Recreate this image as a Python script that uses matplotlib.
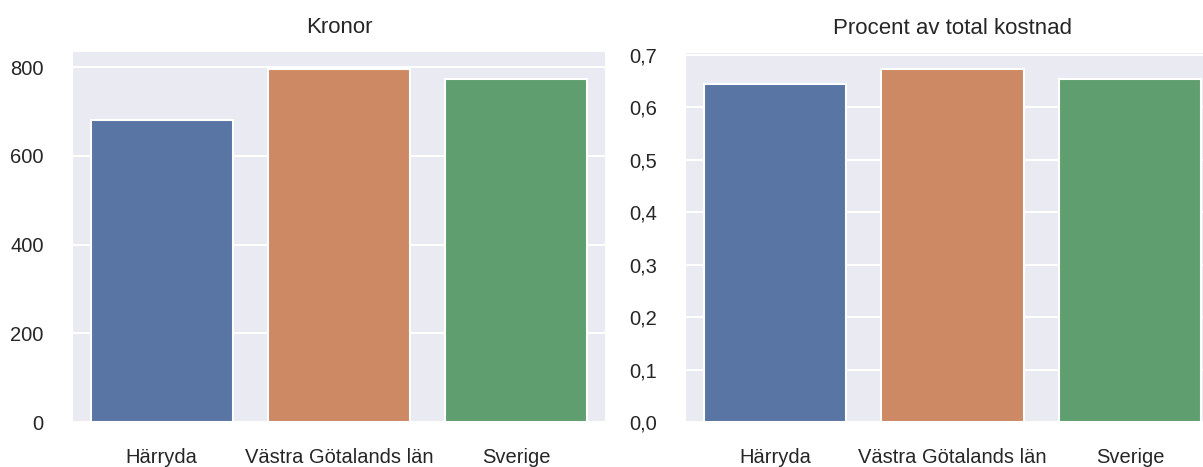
import matplotlib
matplotlib.use("Agg")
import matplotlib.pyplot as plt
from matplotlib.ticker import FuncFormatter

categories = ["Härryda", "Västra Götalands län", "Sverige"]
kronor = [680, 795, 774]
procent = [0.643, 0.673, 0.653]
colors = ["#5875a4", "#cc8963", "#5f9e6e"]
titles = ["Kronor", "Procent av total kostnad"]

plt.rcParams['font.family'] = ['Liberation Sans', 'DejaVu Sans']
fig = plt.figure(figsize=(12.03, 4.67), dpi=100)
W, H = 1203, 467
def px(l, t, r, b):
    return [l / W, 1 - b / H, (r - l) / W, (b - t) / H]

ax1 = fig.add_axes(px(73, 52, 605, 422))
ax2 = fig.add_axes(px(686, 53, 1219, 422))

for ax, vals, title, ytop in [(ax1, kronor, titles[0], 834), (ax2, procent, titles[1], 0.703)]:
    ax.set_facecolor("#eaeaf2")
    for s in ax.spines.values():
        s.set_visible(False)
    x = list(range(len(categories)))
    ax.bar(x, vals, width=0.8, color=colors, edgecolor="white", linewidth=1.5, zorder=2)
    ax.set_xlim(-0.5, 2.5)
    ax.set_ylim(0, ytop)
    ax.set_xticks(x)
    ax.set_xticklabels(categories)
    ax.yaxis.grid(True, color="white", linewidth=1.5, zorder=0)
    ax.xaxis.grid(False)
    ax.set_axisbelow(True)
    ax.tick_params(axis="both", length=0, labelsize=14.5, colors="#262626")
    ax.tick_params(axis="x", pad=19)
    ax.tick_params(axis="y", pad=21)
    ax.set_title(title, fontsize=16, color="#262626", pad=14)

ax1.set_yticks([0, 200, 400, 600, 800])
ax2.set_yticks([0, 0.1, 0.2, 0.3, 0.4, 0.5, 0.6, 0.7])
ax2.yaxis.set_major_formatter(FuncFormatter(lambda v, p: f"{v:.1f}".replace(".", ",")))

fig.savefig("out.png", dpi=100)
